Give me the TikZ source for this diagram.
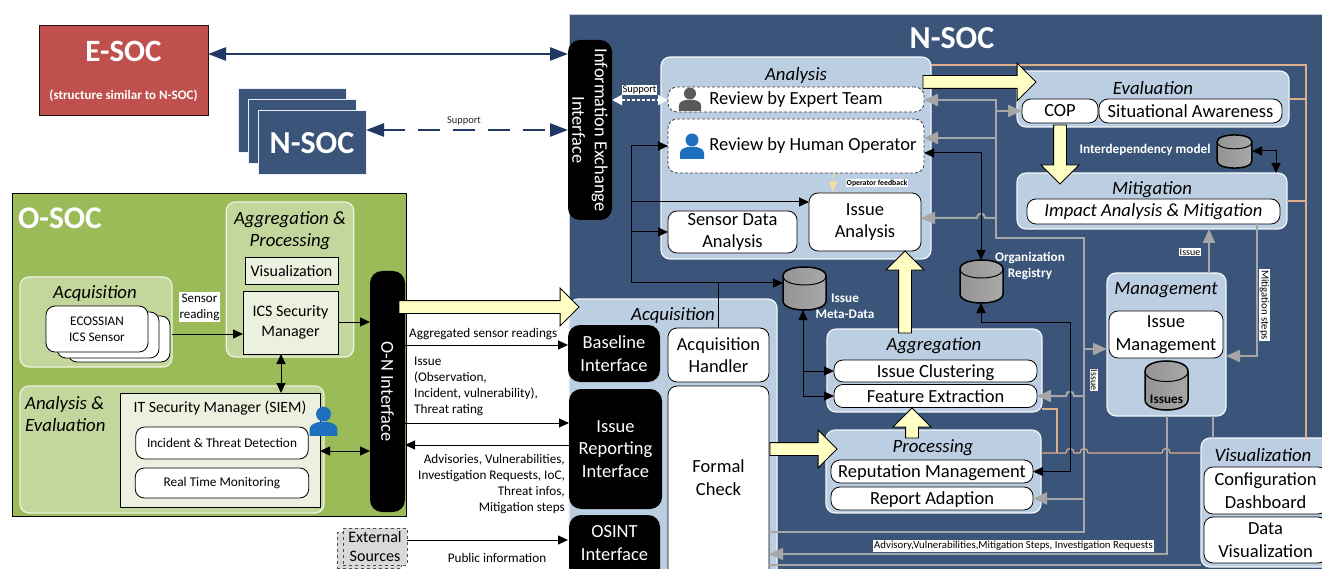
\documentclass[tikz,border=0pt]{standalone}
\usepackage{fontspec}
\setmainfont{Carlito}
\usetikzlibrary{arrows.meta,shapes.arrows}

\definecolor{nsocblue}{HTML}{3A5579}
\definecolor{panelblue}{HTML}{BCCEE2}
\definecolor{socred}{HTML}{C0504D}
\definecolor{socgreen}{HTML}{9BBB59}
\definecolor{panelgreen}{HTML}{C3D69B}
\definecolor{palegreen}{HTML}{EBF1DE}
\definecolor{arrowblue}{HTML}{1F3864}
\definecolor{bigyellow}{HTML}{FFFFC4}
\definecolor{linegrey}{HTML}{A6A6A6}
\definecolor{linetan}{HTML}{DDAE8A}
\definecolor{iconblue}{HTML}{1F6FBF}
\definecolor{icongrey}{HTML}{595959}
\definecolor{feedyellow}{HTML}{F5DFA0}

\tikzset{
  sz/.style={font=\fontsize{#1}{\fpeval{1.22*#1}}\selectfont},
  boxsize/.style 2 args={minimum width=#1, minimum height=#2, inner sep=0, outer sep=0},
  panel/.style={draw=white!80!panelblue, line width=1.2, fill=panelblue, rounded corners=9},
  greenpanel/.style={draw=white!70!panelgreen, line width=1.2, fill=panelgreen, rounded corners=9},
  paneltitle/.style={font=\fontsize{18.8}{22}\selectfont\itshape, align=center, inner sep=0, yshift=-1},
  whitebox/.style={draw=black, line width=0.8, fill=white, rounded corners=9, sz=18.5, align=center},
  lowtext/.style={text height=16, text depth=4},
  dashbox/.style={whitebox, densely dashed, draw=black!75},
  blackbox/.style={fill=black, rounded corners=12, text=white, sz=18.5, align=center},
  palebox/.style={draw=black, line width=0.8, fill=palegreen, align=center},
  stackbox/.style={draw=white!70!panelblue, line width=1, fill=nsocblue},
  extbox/.style={draw=black!70, dashed, line width=0.8, fill=black!15, align=center, sz=16},
  note/.style={inner sep=1, sz=13.2, align=left},
  tag/.style={fill=white, inner sep=1, sz=#1},
  lightlabel/.style={text=white, font=\fontsize{13.2}{16}\selectfont\bfseries, align=center, inner sep=0},
  blueboth/.style={arrowblue, line width=2.6, {Triangle[length=18,width=13]}-{Triangle[length=18,width=13]}},
  blackone/.style={black, line width=1, -{Triangle[length=10,width=9]}},
  blackboth/.style={black, line width=1, {Triangle[length=10,width=9]}-{Triangle[length=10,width=9]}},
  blackline/.style={black, line width=1},
  greyline/.style={linegrey, line width=2},
  greyone/.style={greyline, -{Triangle[length=14,width=12]}},
  tanline/.style={linetan, line width=1.2},
  bigarrow/.style={single arrow, draw=black, line width=0.8, fill=bigyellow,
    single arrow head extend=12.5, single arrow tip angle=90, inner xsep=0, inner ysep=6, outer sep=0, anchor=tail},
  person/.pic={
    \fill[#1] (0,-6) circle (6.5);
    \fill[#1] (-12,13) -- (-12,7) .. controls (-12,3) and (-7,1.5) .. (-4,1) -- (4,1)
      .. controls (7,1.5) and (12,3) .. (12,7) -- (12,13) -- cycle;
  },
  store/.pic={
    \shade[left color=black!42, middle color=black!14, right color=black!34, draw=black, line width=1.5]
      (-21.5,-12.5) -- (-21.5,12.5) .. controls (-21.5,24.5) and (21.5,24.5) .. (21.5,12.5)
      -- (21.5,-12.5) .. controls (21.5,-24.5) and (-21.5,-24.5) .. (-21.5,-12.5) -- cycle;
    \draw[black, line width=1]
      (-21.5,-12.5) .. controls (-21.5,-0.5) and (21.5,-0.5) .. (21.5,-12.5);
  }
}
% hop of a line over another one, walking leftwards
\newcommand{\hop}[2]{-- ({#1+4},#2) .. controls ({#1+4},{#2-6}) and ({#1-4},{#2-6}) .. ({#1-4},#2)}

\begin{document}
\begin{tikzpicture}[x=1pt, y=-1pt]
    \useasboundingbox (0,0) rectangle (1322,569);
    \clip (0,0) rectangle (1322,569);

    % E-SOC and the other N-SOCs
    \node[draw=black!80!socred, line width=1, fill=socred, text=white, boxsize={169}{90}, align=center] (esoc) at (123.5,71)
        {{\fontsize{31}{31}\selectfont\bfseries E-SOC}\\[26pt]{\fontsize{13}{14}\selectfont\bfseries (structure similar to N-SOC)}};
    \node[stackbox, boxsize={108}{64}] (nsocstackc) at (292,121) {};
    \node[stackbox, boxsize={108}{64}] (nsocstackb) at (302,132) {};
    \node[stackbox, boxsize={108}{64}, text=white, font=\fontsize{32}{34}\selectfont\bfseries] (nsocstacka) at (312,143) {N-SOC};

    % O-SOC
    \node[draw=black, line width=1, fill=socgreen, boxsize={394}{322}] (osoc) at (209,355) {};
    \node[text=white, inner sep=0, font=\fontsize{31.5}{32}\selectfont\bfseries] (osoctitle) at (60,218) {O-SOC};

    \node[greenpanel, boxsize={127.5}{155}] (osocaggr) at (290,279.5) {};
    \node[paneltitle] (osocaggrtitle) at (290,229.5) {Aggregation \&\\Processing};
    \node[palebox, boxsize={93}{27}, sz=16] (osocvis) at (291.5,271) {Visualization};
    \node[palebox, boxsize={95}{63}, sz=16] (icsmanager) at (290.5,322.5) {ICS Security\\Manager};

    \node[greenpanel, boxsize={152}{90}] (osocacq) at (96,322) {};
    \node[paneltitle] (osocacqtitle) at (95,293) {Acquisition};
    \node[whitebox, boxsize={102}{46}] (sensorc) at (119,339) {};
    \node[whitebox, boxsize={102}{46}] (sensorb) at (108,335) {};
    \node[whitebox, boxsize={102}{46}, sz=13.2] (sensora) at (97,329) {ECOSSIAN\\ICS Sensor};
    \node[tag=13, boxsize={41}{30}, align=center] (sensortag) at (199.5,307) {Sensor\\reading};

    \node[greenpanel, boxsize={304}{127}] (osocana) at (172,449.5) {};
    \node[paneltitle, align=left, anchor=north west] (osocanatitle) at (25,395) {Analysis \&\\Evaluation};
    \node[palebox, boxsize={200}{114}] (itmanager) at (220,450) {};
    \node[inner sep=0, sz=15.7] (itmanagertitle) at (220,408) {IT Security Manager (SIEM)};
    \node[whitebox, boxsize={172.5}{32}, sz=13.3] (threatdetect) at (222,443) {Incident \& Threat Detection};
    \node[whitebox, boxsize={173.5}{30}, sz=13.3] (realtime) at (222,483) {Real Time Monitoring};
    \pic[scale=1.15] (siemoperator) at (323.5,421) {person=iconblue};

    \node[blackbox, rotate=-90, boxsize={241}{35}, sz=18.3] (oninterface) at (387.5,391.5) {O-N Interface};

    % notes between O-SOC and N-SOC
    \node[note, anchor=west] (aggrnote) at (408,334) {Aggregated sensor readings};
    \node[note, anchor=north west] (issuenote) at (413,355.5) {Issue\\(Observation,\\Incident, vulnerability),\\Threat rating};
    \node[note, align=right, anchor=north east] (advisorynote) at (566,453) {Advisories, Vulnerabilities,\\Investigation Requests, IoC,\\Threat infos,\\Mitigation steps};
    \node[note] (publicnote) at (497,558) {Public information};
    \node[extbox, boxsize={64}{36}] (externalb) at (369,550.5) {};
    \node[extbox, boxsize={64}{37}] (externala) at (375,546.5) {External\\Sources};

    % N-SOC
    \node[fill=nsocblue, draw=white!70!nsocblue, line width=0.8, boxsize={760}{565}, anchor=north west] (nsoc) at (569,14) {};
    \node[text=white, inner sep=0, font=\fontsize{32}{34}\selectfont\bfseries] (nsoctitle) at (952,38) {N-SOC};

    \node[blackbox, rotate=-90, boxsize={180}{44}, sz=18.4] (infointerface) at (590,130) {Information Exchange\\Interface};
    \node[tag=10.4] (supporttag) at (639.5,90) {Support};
    \node[sz=10.4, inner sep=0, text=black!85] (supportnote) at (464,121) {Support};

    \node[panel, boxsize={208}{290}, anchor=north west] (acquisition) at (569,299) {};
    \node[paneltitle] (acquisitiontitle) at (673,315) {Acquisition};
    \node[blackbox, boxsize={92}{57}] (baseline) at (614,353.5) {Baseline\\Interface};
    \node[blackbox, boxsize={93}{120}] (issuereporting) at (615.5,449) {Issue\\Reporting\\Interface};
    \node[blackbox, boxsize={91}{70}, anchor=north west, label={[sz=18.5, text=white, align=center, yshift=7]center:{OSINT\\Interface}}] (osint) at (569,515) {};
    \node[whitebox, boxsize={101}{54}] (acqhandler) at (718.5,355) {Acquisition\\Handler};
    \node[whitebox, boxsize={101}{200}, anchor=north west, label={[sz=18.5, align=center, yshift=8.5]center:{Formal\\Check}}] (formalcheck) at (668,386) {};

    \node[panel, boxsize={270}{202}] (analysis) at (796,158) {};
    \node[paneltitle] (analysistitle) at (796,74) {Analysis};
    \node[dashbox, boxsize={256}{25}] (reviewexpert) at (796,99.5) {Review by Expert Team};
    \pic[scale=0.92] (expertperson) at (690,99) {person=icongrey};
    \node[dashbox, boxsize={256}{54}] (reviewhuman) at (796,146) {\hspace{34pt}Review by Human Operator};
    \pic[scale=1] (humanperson) at (692,146) {person=iconblue};
    \node[whitebox, boxsize={129}{42}] (sensordata) at (732.5,232) {Sensor Data\\Analysis};
    \node[whitebox, boxsize={112}{58}] (issueanalysis) at (865,222) {Issue\\Analysis};
    \node[tag=8, font=\fontsize{7.8}{9}\selectfont\bfseries] (feedbacktag) at (877,183) {Operator feedback};

    \node[panel, boxsize={272}{56}] (evaluation) at (1153,99) {};
    \node[paneltitle] (evaluationtitle) at (1153,87) {Evaluation};
    \node[whitebox, boxsize={76}{24}] (cop) at (1060,111) {COP};
    \node[whitebox, boxsize={183}{24}] (awareness) at (1190.5,111) {Situational Awareness};

    \node[panel, boxsize={270}{56}] (mitigation) at (1152,201) {};
    \node[paneltitle] (mitigationtitle) at (1152,189) {Mitigation};
    \node[whitebox, boxsize={253}{25}, font=\fontsize{18.6}{20}\selectfont\itshape] (impact) at (1153.5,211.5) {Impact Analysis \& Mitigation};
    \node[lightlabel] (interdeplabel) at (1145,150) {Interdependency model};
    \pic[xscale=0.81, yscale=0.77] (interdep) at (1234.5,151.5) {store};

    \pic (metadata) at (804.5,288.5) {store};
    \node[lightlabel, text width=70] (metadatalabel) at (845,306) {Issue\\Meta-Data};
    \pic (registry) at (981.5,281.5) {store};
    \node[lightlabel, text width=80] (registrylabel) at (1030,266) {Organization\\Registry};

    \node[panel, boxsize={215}{83}] (aggregation) at (934.5,370.5) {};
    \node[paneltitle] (aggregationtitle) at (934,345) {Aggregation};
    \node[whitebox, lowtext, boxsize={203}{22}] (clustering) at (935.5,371) {Issue Clustering};
    \node[whitebox, boxsize={203}{23}] (featureextr) at (935.5,396) {Feature Extraction};

    \node[panel, boxsize={215}{83}] (processing) at (933.5,471.5) {};
    \node[paneltitle] (processingtitle) at (933,447) {Processing};
    \node[whitebox, lowtext, boxsize={202}{23}] (reputation) at (932,471.5) {Reputation Management};
    \node[whitebox, lowtext, boxsize={202}{23}] (reportadapt) at (932,498.5) {Report Adaption};

    \node[panel, boxsize={119}{143}] (management) at (1166.5,344.5) {};
    \node[paneltitle] (managementtitle) at (1166,289) {Management};
    \node[whitebox, boxsize={114}{47}] (issuemgmt) at (1166,334.5) {Issue\\Management};
    \pic[yscale=1.14] (issues) at (1166.5,385.5) {store};
    \node[inner sep=0, font=\fontsize{13.2}{14}\selectfont\bfseries] (issuesname) at (1166.5,399) {Issues};

    \node[panel, boxsize={130}{129}, anchor=north west] (visualization) at (1201,438) {};
    \node[paneltitle] (visualizationtitle) at (1263,454) {Visualization};
    \node[whitebox, boxsize={123}{47}, anchor=north west] (configdash) at (1204,467) {Configuration\\Dashboard};
    \node[whitebox, boxsize={123}{46}, anchor=north west] (dataview) at (1204,517) {Data\\Visualization};

    % free ends and corners of the connectors
    \coordinate (infoport) at (568,54);
    \coordinate (nsocport) at (568,130);
    \coordinate (sensorport) at (172,334);
    \coordinate (oninport) at (370,322);
    \coordinate (icslink) at (281,354);
    \coordinate (siemlink) at (320,451);
    \coordinate (baseport) at (568,345);
    \coordinate (issueport) at (569,423);
    \coordinate (advport) at (569,445);
    \coordinate (extport) at (568,540);
    \coordinate (supportport) at (612,100);
    \coordinate (blkhub) at (631,283);
    \coordinate (blktop) at (631,146);
    \coordinate (blkissue) at (631,202);
    \coordinate (metaport) at (783,283);
    \coordinate (metabottom) at (803,310);
    \coordinate (metacorner) at (803,396);
    \coordinate (regtop) at (981,260);
    \coordinate (regbottom) at (981,303);
    \coordinate (orgupper) at (981,153);
    \coordinate (orglower) at (981,322);
    \coordinate (orgright) at (1070,322);
    \coordinate (interport) at (1252,151);
    \coordinate (intercorner) at (1276,151);
    \coordinate (feedport) at (833,192);
    \coordinate (busa) at (996,100);
    \coordinate (busb) at (996,238);
    \coordinate (busc) at (1084,238);
    \coordinate (busd) at (1084,532);
    \coordinate (buse) at (996,138);
    \coordinate (busf) at (996,218);
    \coordinate (mgmtport) at (1107,349);
    \coordinate (mitport) at (1209,229);
    \coordinate (stepa) at (1257,224);
    \coordinate (stepb) at (1257,356);
    \coordinate (advcorner) at (1166.5,554);
    \coordinate (vistop) at (1213,438);
    \coordinate (visbottom) at (1201,565);
    \coordinate (tana) at (931,65);
    \coordinate (tanb) at (1306,65);
    \coordinate (tanc) at (1306,438);
    \coordinate (tand) at (1289,99);
    \coordinate (tane) at (1287,201);
    \coordinate (tanf) at (1201,453);
    \coordinate (tang) at (1041,453);
    \coordinate (tanh) at (1042,409);
    \coordinate (tani) at (1057,409);
    \coordinate (tanj) at (1057,453);

    % links outside N-SOC
    \draw[blueboth] (esoc.east |- infoport) -- (infoport);
    \draw[blueboth, dash pattern=on 22pt off 13pt] (nsocstacka.east |- nsocport) -- (nsocport);
    \draw[blackone] (sensorport) -- (icsmanager.west |- sensorport);
    \draw[blackone] (icsmanager.east |- oninport) -- (oninport);
    \draw[blackboth] (icslink) -- (icslink |- itmanager.north);
    \draw[blackboth] (siemlink) -- (oninterface.south |- siemlink);
    \draw[blackone] (oninterface.north |- baseport) -- (baseport);
    \draw[blackone] (oninterface.north |- issueport) -- (issueport);
    \draw[blackone] (advport) -- (oninterface.north |- advport);
    \draw[blackone] (externala.east |- extport) -- (extport);
    \draw[white, line width=2, densely dashed, {Triangle[length=10,width=10]}-{Triangle[length=10,width=10]}] (supportport) -- (reviewexpert.west |- supportport);

    % grey links
    \draw[tanline] (tana) -- (tanb) -- (tanc);
    \draw[tanline] (tand) -- (tand -| tanb);
    \draw[tanline] (tane) -- (tane -| tanb);
    \draw[tanline] (tanh) -- (tani) -- (tanj);
    \draw[tanline] (tanf) \hop{1166}{453} \hop{1084}{453} \hop{1070}{453} -- (tang);

    \draw[greyone] (formalcheck.east |- busd) -- (busd) -- (busc) -- (busb) -- (busa) -- (reviewexpert.east |- busa);
    \draw[greyone] (busa |- cop.west) -- (cop.west);
    \draw[greyone] (buse) -- (reviewhuman.east |- buse);
    \draw[greyone] (busf) \hop{981}{218} -- (issueanalysis.east |- busf);
    \draw[greyone] (busc |- featureextr.east) \hop{1070}{396} -- (featureextr.east);
    \draw[greyone] (busc |- reportadapt.east) -- (reportadapt.east);
    \draw[greyone] (busc |- mgmtport) -- (mgmtport);
    \draw[greyone] (mitport |- management.north) -- (mitport);
    \draw[greyone] (stepa) -- (stepb) -- (management.east |- stepb);
    \draw[greyone] (management.south) -- (advcorner) -- (formalcheck.east |- advcorner);
    \draw[greyline] (vistop |- management.south) -- (vistop);
    \draw[greyline] (formalcheck.east |- visbottom) -- (visbottom);

    % black links
    \draw[blackline] (acqhandler.north) -- (acqhandler.north |- blkhub) -- (blkhub) -- (blktop);
    \draw[blackone] (blktop) -- (reviewhuman.west |- blktop);
    \draw[blackone] (blkissue) -- (issueanalysis.west |- blkissue);
    \draw[blackone] (blkhub |- sensordata.west) -- (sensordata.west);
    \draw[blackone] (blkhub) -- (metaport);
    \draw[blackboth] (metabottom) -- (metacorner) -- (featureextr.west |- metacorner);
    \draw[blackone] (metacorner |- clustering.west) -- (clustering.west);
    \draw[blackboth] (regtop) -- (orgupper) -- (reviewhuman.east |- orgupper);
    \draw[blackboth] (regbottom) -- (orglower) -- (orgright) -- (orgright |- reputation.east) -- (reputation.east);
    \draw[blackboth] (interport) -- (intercorner) -- (intercorner |- mitigation.north);
    \draw[line width=1, draw=feedyellow, -{Triangle[length=10,width=8]}] (feedport |- reviewhuman.south) -- (feedport);

    % tags on the grey links
    \node[tag=10] (issuetagup) at (1190,252) {Issue};
    \node[tag=10, rotate=-90] (issuetagbus) at (1094,380) {Issue};
    \node[tag=10.7, rotate=-90] (stepstag) at (1264.5,305) {Mitigation steps};
    \node[tag=10.8] (advtag) at (1013.5,546) {Advisory,Vulnerabilities,Mitigation Steps, Investigation Requests};

    % big arrows
    \node[bigarrow, minimum height=180] (flowsoc) at (399,307) {};
    \node[bigarrow, minimum height=113] (flowevaluation) at (923,82) {};
    \node[bigarrow, minimum height=59, rotate=-90] (flowmitigation) at (1060,125) {};
    \node[bigarrow, minimum height=82, rotate=90] (flowanalysis) at (905,333) {};
    \node[bigarrow, minimum height=30, rotate=90] (flowaggregation) at (912,438) {};
    \node[bigarrow, minimum height=67] (flowprocessing) at (770,449) {};
\end{tikzpicture}
\end{document}
